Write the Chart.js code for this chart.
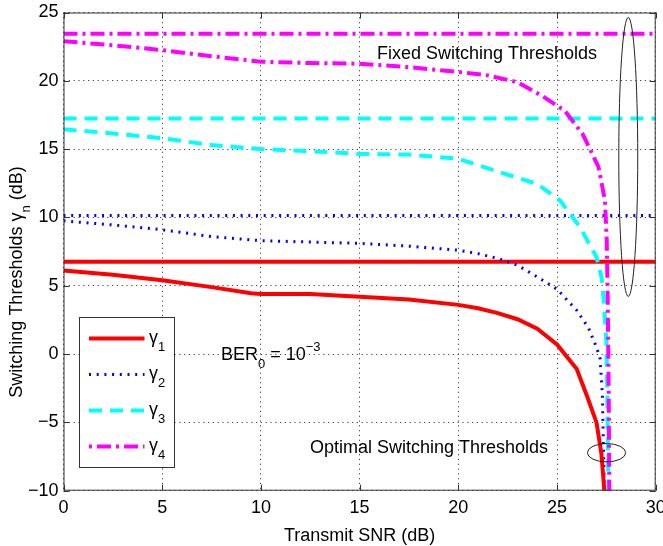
<!DOCTYPE html>
<html><head><meta charset="utf-8">
<script src="https://cdn.jsdelivr.net/npm/chart.js@4/dist/chart.umd.min.js"></script>
<style>html,body{margin:0;padding:0;background:#fff}#wrap{width:663px;height:546px}</style>
</head><body><div id="wrap"><canvas id="c" width="663" height="546"></canvas></div>
<script>
const FONT = "'Liberation Sans', Arial, Helvetica, sans-serif";

// Tick values
const xTicks = [0, 5, 10, 15, 20, 25, 30];
const yTicks = [-10, -5, 0, 5, 10, 15, 20, 25];

// Optimal switching thresholds (dB) vs transmit SNR (dB)
const snr1 = [0, 2.5, 5, 7.5, 9.5, 10, 12.5, 15, 17.5, 20, 21, 22, 23, 24, 25, 26, 26.5, 27, 27.25, 27.4];
const opt1 = [6.12, 5.8, 5.4, 4.9, 4.45, 4.4, 4.4, 4.2, 4.0, 3.6, 3.35, 3.0, 2.55, 1.85, 0.7, -1.1, -3.0, -5.0, -7.3, -10];

const snr2 = [0, 2.5, 5, 7.5, 10, 12.5, 15, 17.5, 20, 21, 22, 23, 24, 25, 26, 26.6, 27, 27.18, 27.3, 27.4];
const opt2 = [9.75, 9.45, 9.1, 8.6, 8.3, 8.2, 8.1, 7.9, 7.6, 7.35, 7.0, 6.5, 5.65, 4.75, 3.2, 1.9, 0.5, -0.3, -3.0, -10];

const snr3 = [0, 2.5, 5, 7.5, 10, 12.5, 15, 17.5, 20, 22, 24, 25.15, 26.16, 27.0, 27.26, 27.35, 27.5, 27.55, 27.6];
const opt3 = [16.45, 16.15, 15.8, 15.3, 15.0, 14.85, 14.65, 14.6, 14.3, 13.35, 12.45, 11.25, 9.3, 7.1, 5.6, 4.2, 1.0, -3.0, -10];

const snr4 = [0, 2.5, 5, 7.5, 10, 12.5, 15, 17.5, 20, 21.5, 23, 24.3, 25.4, 26.3, 27.1, 27.43, 27.52, 27.57, 27.62, 27.65];
const opt4 = [22.9, 22.6, 22.25, 21.8, 21.4, 21.3, 21.25, 21.0, 20.65, 20.4, 19.9, 18.85, 17.8, 16.1, 13.7, 11.25, 8.3, 4.0, -3.0, -10];

// Fixed switching thresholds (dB)
const fixedSnr = [0, 30];
const fixed1 = [6.75, 6.75];
const fixed2 = [10.15, 10.15];
const fixed3 = [17.25, 17.25];
const fixed4 = [23.45, 23.45];

const legendLabels = ['1', '2', '3', '4'];

const pts = (xs, ys) => xs.map((x, i) => ({x: x, y: ys[i]}));

const STY = [
  {color: '#ff0000', width: 4, dash: []},
  {color: '#0000ff', width: 3, dash: [2, 5.7]},
  {color: '#00ffff', width: 4, dash: [13, 8]},
  {color: '#ff00ff', width: 4, dash: [14, 5, 3, 5]}
];
function ds(xs, ys, k, order) {
  const s = STY[k];
  return {data: pts(xs, ys), borderColor: s.color, borderWidth: s.width, borderDash: s.dash,
    borderCapStyle: 'butt', pointRadius: 0, fill: false, tension: 0, order: order};
}

function richWidth(ctx, parts) {
  let w = 0;
  for (const p of parts) {
    ctx.font = (p.sub || p.sup ? 13 : 18) + 'px ' + FONT;
    w += ctx.measureText(p.t).width;
  }
  return w;
}
function drawRich(ctx, parts, x, y) {
  ctx.textBaseline = 'alphabetic';
  ctx.textAlign = 'left';
  for (const p of parts) {
    ctx.font = (p.sub || p.sup ? 13 : 18) + 'px ' + FONT;
    const dy = p.sub ? 8 : (p.sup ? -9 : 0);
    ctx.fillText(p.t, x, y + dy);
    x += ctx.measureText(p.t).width;
  }
}

const deco = {
  id: 'deco',
  afterDraw(chart) {
    const ctx = chart.ctx, a = chart.chartArea;
    const xs = chart.scales.x, ys = chart.scales.y;
    ctx.save();
    // axes box
    ctx.strokeStyle = '#333'; ctx.lineWidth = 1; ctx.setLineDash([]);
    ctx.strokeRect(a.left + 0.5, a.top + 0.5, a.right - a.left - 1, a.bottom - a.top - 1);
    // inward ticks
    ctx.beginPath();
    for (const v of xTicks) {
      const px = Math.round(xs.getPixelForValue(v)) + 0.5;
      ctx.moveTo(px, a.bottom); ctx.lineTo(px, a.bottom - 6);
      ctx.moveTo(px, a.top); ctx.lineTo(px, a.top + 6);
    }
    for (const v of yTicks) {
      const py = Math.round(ys.getPixelForValue(v)) + 0.5;
      ctx.moveTo(a.left, py); ctx.lineTo(a.left + 6, py);
      ctx.moveTo(a.right, py); ctx.lineTo(a.right - 6, py);
    }
    ctx.stroke();

    // ellipses
    ctx.strokeStyle = '#222'; ctx.lineWidth = 1;
    const ell = (cx, cy, rx, ry) => {
      const px = xs.getPixelForValue(cx), py = ys.getPixelForValue(cy);
      const rpx = Math.abs(xs.getPixelForValue(cx + rx) - px);
      const rpy = Math.abs(ys.getPixelForValue(cy + ry) - py);
      ctx.beginPath(); ctx.ellipse(px, py, rpx, rpy, 0, 0, Math.PI * 2); ctx.stroke();
    };
    ell(28.61, 14.43, 0.48, 10.21);
    ell(27.51, -7.22, 0.97, 0.67);

    // texts
    ctx.fillStyle = '#000';
    drawRich(ctx, [{t: 'Fixed Switching Thresholds'}], 377, 59);
    drawRich(ctx, [{t: 'Optimal Switching Thresholds'}], 310, 453);
    drawRich(ctx, [{t: 'BER'}, {t: '0', sub: true}, {t: ' = 10'}, {t: '\u22123', sup: true}], 221, 360);

    // x title
    const xt = [{t: 'Transmit SNR (dB)'}];
    drawRich(ctx, xt, 359.6 - richWidth(ctx, xt) / 2, 541);
    // y title
    const yt = [{t: 'Switching Thresholds \u03b3'}, {t: 'n', sub: true}, {t: ' (dB)'}];
    ctx.save();
    ctx.translate(22, 282);
    ctx.rotate(-Math.PI / 2);
    drawRich(ctx, yt, -richWidth(ctx, yt) / 2, 0);
    ctx.restore();

    // legend
    const L = {x: 79, y: 317, w: 95, h: 150};
    ctx.fillStyle = '#fff';
    ctx.fillRect(L.x, L.y, L.w, L.h);
    ctx.strokeStyle = '#333'; ctx.lineWidth = 1; ctx.setLineDash([]);
    ctx.strokeRect(L.x + 0.5, L.y + 0.5, L.w, L.h);
    legendLabels.forEach((lab, i) => {
      const s = STY[i];
      const ly = 338.5 + i * 36;
      ctx.strokeStyle = s.color; ctx.lineWidth = s.width; ctx.setLineDash(s.dash);
      ctx.lineDashOffset = i === 3 ? 19 : 0;
      ctx.lineCap = 'butt';
      ctx.beginPath(); ctx.moveTo(89, ly); ctx.lineTo(144.5, ly); ctx.stroke();
      ctx.setLineDash([]); ctx.lineDashOffset = 0;
      ctx.fillStyle = '#000';
      drawRich(ctx, [{t: '\u03b3'}, {t: lab, sub: true}], 149, ly + 4);
    });
    ctx.restore();
  }
};

Chart.defaults.font.family = FONT;
Chart.defaults.font.size = 18;
Chart.defaults.color = '#000';

new Chart(document.getElementById('c'), {
  type: 'line',
  data: {
    datasets: [
      ds(fixedSnr, fixed1, 0, 5),
      ds(fixedSnr, fixed2, 1, 5),
      ds(fixedSnr, fixed3, 2, 5),
      ds(fixedSnr, fixed4, 3, 5),
      ds(snr2, opt2, 1, 4),
      ds(snr1, opt1, 0, 3),
      ds(snr3, opt3, 2, 2),
      ds(snr4, opt4, 3, 1)
    ]
  },
  options: {
    responsive: false,
    devicePixelRatio: 1,
    animation: false,
    events: [],
    layout: {padding: {left: 0, top: 12.5, right: 7.3, bottom: 0}},
    plugins: {legend: {display: false}, tooltip: {enabled: false}, title: {display: false}},
    scales: {
      x: {
        type: 'linear', min: 0, max: 30,
        afterBuildTicks: s => { s.ticks = xTicks.map(v => ({value: v})); },
        afterFit: s => { s.height = 55.3; s.paddingLeft = 0; s.paddingRight = 0; },
        grid: {color: '#444', lineWidth: 1, drawTicks: false},
        border: {display: false, dash: [1.2, 3.6]},
        ticks: {padding: 7, maxRotation: 0, autoSkip: false, color: '#000',
          callback: v => String(v).replace('-', '\u2212')}
      },
      y: {
        type: 'linear', min: -10, max: 25,
        afterBuildTicks: s => { s.ticks = yTicks.map(v => ({value: v})); },
        afterFit: s => { s.width = 63.5; s.paddingTop = 0; s.paddingBottom = 0; },
        grid: {color: '#444', lineWidth: 1, drawTicks: false},
        border: {display: false, dash: [1.2, 3.6]},
        ticks: {padding: 5, autoSkip: false, color: '#000',
          callback: v => String(v).replace('-', '\u2212')}
      }
    }
  },
  plugins: [deco]
});
</script>
</body></html>
